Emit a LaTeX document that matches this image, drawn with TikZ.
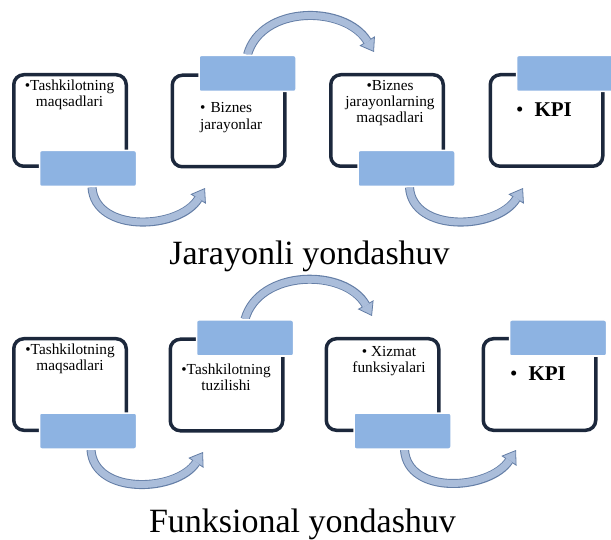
\documentclass[tikz,border=0pt]{standalone}
\usepackage{fontspec}
\setmainfont{Liberation Serif}
\usetikzlibrary{arrows.meta,backgrounds}
\definecolor{navy}{RGB}{28,40,60}
\definecolor{tagblue}{RGB}{141,179,226}
\definecolor{arcfill}{RGB}{170,189,218}
\definecolor{arcline}{RGB}{100,126,166}
\begin{document}
\begin{tikzpicture}[x=1pt,y=-1pt,
  card/.style={draw=navy, line width=3.5pt, fill=white, rounded corners=10pt,
    minimum width=112.5pt, minimum height=91.5pt, inner sep=0pt},
  tag/.style={draw=white, line width=1.5pt, fill=tagblue, rounded corners=2pt,
    minimum width=97pt, minimum height=36pt, inner sep=0pt},
  txt/.style={inner sep=0pt, align=center, font=\fontsize{15.3}{16}\selectfont},
  kpi/.style={inner sep=0pt, anchor=base west, font=\fontsize{21}{24}\selectfont},
  title/.style={inner sep=0pt, anchor=base, font=\fontsize{34}{40}\selectfont},
  bandout/.style={line width=9pt, draw=arcline,
    -{Triangle[length=13pt,width=18pt,line width=0.8pt,fill=arcfill,color=arcline]}},
  bandin/.style={line width=7pt, draw=arcfill, shorten >=12pt}]
\useasboundingbox (0,0) rectangle (611,540);

% top row
\node[card] (c1) at (70,120.5) {};
\node[card] (c2) at (228.5,121) {};
\node[card] (c3) at (387,120.5) {};
\node[card] (c4) at (546.5,120.5) {};
\node[tag] (g1) at (88,168.5) {};
\node[tag] (g2) at (247.5,73.5) {};
\node[tag] (g3) at (406.5,168.5) {};
\node[tag] (g4) at (565,73.5) {};
\node[txt, anchor=north] (t1) at (69.5,80) {•Tashkilotning\\maqsadlari};
\node[txt, anchor=north west, align=left, font=\fontsize{15.3}{17.5}\selectfont] (t2) at (200,102) {•\hspace{5pt}Biznes\\jarayonlar};
\node[txt, anchor=north] (t3) at (390,80) {•Biznes\\jarayonlarning\\maqsadlari};
\node[kpi] (t4) at (516,117) {•\hspace{11pt}\textbf{KPI}};
\coordinate (a1) at (205,188);
\coordinate (a2) at (374,52);
\coordinate (a3) at (523,188);
\node[title] (h1) at (309.5,265) {Jarayonli yondashuv};

% bottom row
\node[card] (d1) at (70,384.5) {};
\node[card] (d2) at (226.5,385) {};
\node[card] (d3) at (382.5,384.5) {};
\node[card] (d4) at (539.5,384.5) {};
\node[tag] (f1) at (88,431) {};
\node[tag] (f2) at (245,338) {};
\node[tag] (f3) at (402.5,431) {};
\node[tag] (f4) at (558,338) {};
\node[txt, anchor=north] (s1) at (70,344) {•Tashkilotning\\maqsadlari};
\node[txt, anchor=north] (s2) at (226,364) {•Tashkilotning\\tuzilishi};
\node[txt, anchor=north] (s3) at (389,346) {•\hspace{4pt}Xizmat\\funksiyalari};
\node[kpi] (s4) at (510,380) {•\hspace{11pt}\textbf{KPI}};
\coordinate (b1) at (203,452);
\coordinate (b2) at (372,316);
\coordinate (b3) at (516,450);
\node[title] (h2) at (302.5,532.5) {Funksional yondashuv};

\begin{pgfonlayer}{background}
\draw[bandout] ([xshift=4pt]g1.south) .. controls +(3,46) and +(-26,42) .. (a1);
\draw[bandin]  ([xshift=4pt]g1.south) .. controls +(3,46) and +(-26,42) .. (a1);
\draw[bandout] (g2.north) .. controls +(14,-50) and +(-29,-47) .. (a2);
\draw[bandin]  (g2.north) .. controls +(14,-50) and +(-29,-47) .. (a2);
\draw[bandout] ([xshift=3pt]g3.south) .. controls +(3,46) and +(-26,42) .. (a3);
\draw[bandin]  ([xshift=3pt]g3.south) .. controls +(3,46) and +(-26,42) .. (a3);
\draw[bandout] ([xshift=3pt]f1.south) .. controls +(3,46) and +(-26,40) .. (b1);
\draw[bandin]  ([xshift=3pt]f1.south) .. controls +(3,46) and +(-26,40) .. (b1);
\draw[bandout] (f2.north) .. controls +(14,-50) and +(-27,-48) .. (b2);
\draw[bandin]  (f2.north) .. controls +(14,-50) and +(-27,-48) .. (b2);
\draw[bandout] ([xshift=2pt]f3.south) .. controls +(3,46) and +(-26,40) .. (b3);
\draw[bandin]  ([xshift=2pt]f3.south) .. controls +(3,46) and +(-26,40) .. (b3);
\end{pgfonlayer}
\end{tikzpicture}
\end{document}
